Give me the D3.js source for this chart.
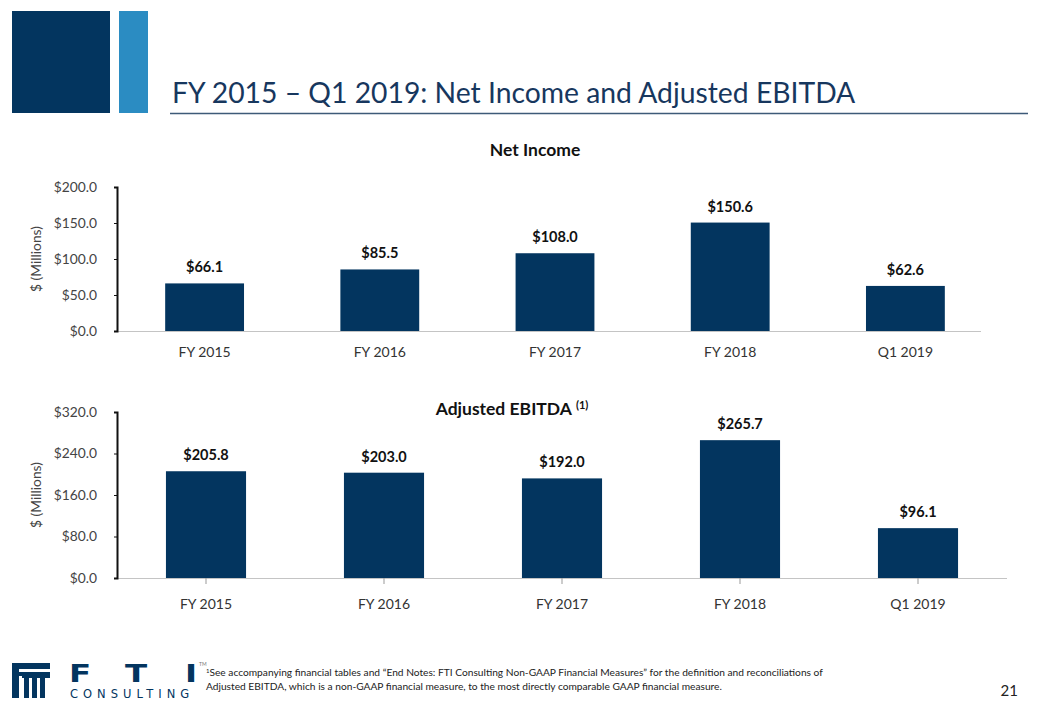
<!DOCTYPE html>
<html>
<head>
<meta charset="utf-8">
<script src="https://cdn.jsdelivr.net/npm/d3@7"></script>
<style>
  body { margin: 0; background: #fff; }
  svg { display: block; font-family: Lato, "Open Sans", sans-serif; }
</style>
</head>
<body>
<svg id="slide" width="1040" height="720"></svg>
<script>
const categories = ["FY 2015", "FY 2016", "FY 2017", "FY 2018", "Q1 2019"];
const netIncome = [66.1, 85.5, 108.0, 150.6, 62.6];
const adjEbitda = [205.8, 203.0, 192.0, 265.7, 96.1];
const netTicks = [0, 50, 100, 150, 200];
const ebitdaTicks = [0, 80, 160, 240, 320];

const navy = "#03355f";
const lightBlue = "#2b8cc2";
const titleColor = "#17375e";

const svg = d3.select("#slide");

// header blocks + title
svg.append("rect").attr("x", 12).attr("y", 11).attr("width", 98).attr("height", 102).attr("fill", navy);
svg.append("rect").attr("x", 119).attr("y", 11).attr("width", 29).attr("height", 102).attr("fill", lightBlue);
svg.append("text")
  .attr("x", 172).attr("y", 103)
  .attr("font-size", 28.3).attr("fill", titleColor)
  .text("FY 2015 \u2013 Q1 2019: Net Income and Adjusted EBITDA");
svg.append("line")
  .attr("x1", 170).attr("x2", 1028).attr("y1", 113.5).attr("y2", 113.5)
  .attr("stroke", "#3d5a78").attr("stroke-width", 1.5);

// one bar chart
function barChart(cfg) {
  const g = svg.append("g");
  const x = d3.scaleBand().domain(categories).range([117, cfg.right]).paddingInner(0.55).paddingOuter(0.275);
  const y = d3.scaleLinear().domain([0, d3.max(cfg.ticks)]).range([cfg.bottom, cfg.top]);

  g.append("line")
    .attr("x1", 117).attr("x2", cfg.baseEnd)
    .attr("y1", y(0) + 0.5).attr("y2", y(0) + 0.5)
    .attr("stroke", "#c4c4c4").attr("stroke-width", 1.2);

  g.selectAll(".bar").data(cfg.values).enter().append("rect")
    .attr("x", (d, i) => x(categories[i]))
    .attr("width", x.bandwidth())
    .attr("y", d => y(d))
    .attr("height", d => y(0) - y(d))
    .attr("fill", navy);

  g.selectAll(".val").data(cfg.values).enter().append("text")
    .attr("x", (d, i) => x(categories[i]) + x.bandwidth() / 2)
    .attr("y", d => y(d) - 11)
    .attr("text-anchor", "middle")
    .attr("font-size", 14.5).attr("font-weight", "bold").attr("fill", "#111")
    .text(d => "$" + d.toFixed(1));

  if (cfg.catTicks) {
    g.selectAll(".ct").data(categories).enter().append("line")
      .attr("x1", d => x(d) + x.bandwidth() / 2).attr("x2", d => x(d) + x.bandwidth() / 2)
      .attr("y1", y(0)).attr("y2", y(0) + 6)
      .attr("stroke", "#999");
  }

  g.selectAll(".cat").data(categories).enter().append("text")
    .attr("x", d => x(d) + x.bandwidth() / 2)
    .attr("y", y(0) + cfg.catOffset)
    .attr("text-anchor", "middle")
    .attr("font-size", 14).attr("fill", "#333")
    .text(d => d);

  const yAxis = g.append("g")
    .attr("transform", "translate(117,0)")
    .call(d3.axisLeft(y).tickValues(cfg.ticks).tickSize(3).tickFormat(d => "$" + d3.format(".1f")(d)));
  yAxis.select(".domain").attr("stroke", "#111").attr("stroke-width", 2);
  yAxis.selectAll(".tick line").attr("stroke", "#111");
  yAxis.selectAll(".tick text").attr("x", -20).attr("font-size", 13.8).attr("fill", "#444")
    .attr("font-family", "Lato, sans-serif");

  g.append("text")
    .attr("transform", `translate(41,${(cfg.top + cfg.bottom) / 2}) rotate(-90)`)
    .attr("text-anchor", "middle")
    .attr("font-size", 13.8).attr("fill", "#444")
    .text("$ (Millions)");

  const t = g.append("text")
    .attr("x", cfg.titleX).attr("y", cfg.titleY)
    .attr("text-anchor", "middle")
    .attr("font-size", 17.5).attr("font-weight", "bold").attr("fill", "#111")
    .text(cfg.title);
  if (cfg.sup) {
    t.append("tspan").attr("dy", -6).attr("dx", 4).attr("font-size", 11).text(cfg.sup);
  }
}

barChart({ values: netIncome, ticks: netTicks, top: 187, bottom: 331, right: 993, baseEnd: 981,
  title: "Net Income", titleX: 535, titleY: 156, catOffset: 26, catTicks: false });
barChart({ values: adjEbitda, ticks: ebitdaTicks, top: 412, bottom: 578, right: 1007, baseEnd: 1007,
  title: "Adjusted EBITDA", sup: "(1)", titleX: 512, titleY: 415, catOffset: 31, catTicks: true });

// footer logo
const logo = svg.append("g");
logo.append("rect").attr("x", 12).attr("y", 663).attr("width", 38).attr("height", 6).attr("fill", navy);
logo.append("rect").attr("x", 12).attr("y", 669).attr("width", 7).attr("height", 29).attr("fill", navy);
logo.append("rect").attr("x", 19).attr("y", 672).attr("width", 31).attr("height", 4).attr("fill", navy);
[24, 32, 40].forEach(cx => {
  logo.append("rect").attr("x", cx).attr("y", 678).attr("width", 5).attr("height", 20).attr("fill", navy);
});
logo.append("rect").attr("x", 22).attr("y", 676).attr("width", 28).attr("height", 2).attr("fill", navy);
logo.selectAll(".ftil").data([["F", 80], ["T", 136], ["I", 191]]).enter().append("text")
  .attr("x", d => d[1]).attr("y", 682)
  .attr("text-anchor", "middle")
  .attr("font-size", 25).attr("font-weight", "900").attr("fill", navy)
  .attr("font-family", "DejaVu Sans, sans-serif")
  .attr("transform", d => `translate(${d[1]},0) scale(1.3,1) translate(${-d[1]},0)`)
  .text(d => d[0]);
logo.append("text").attr("x", 199).attr("y", 666).attr("font-size", 5).attr("fill", "#777").text("TM");
logo.append("text").attr("x", 70).attr("y", 698)
  .attr("font-size", 11.5).attr("fill", navy).attr("letter-spacing", 5)
  .attr("font-family", "DejaVu Sans, sans-serif")
  .text("CONSULTING");

// footnote
const note = svg.append("text").attr("font-size", 10.2).attr("fill", "#222");
note.append("tspan").attr("x", 206).attr("y", 676)
  .html("<tspan font-size='6' dy='-3'>1</tspan><tspan dy='3'>See accompanying financial tables and \u201cEnd Notes: FTI Consulting Non-GAAP Financial Measures\u201d for the definition and reconciliations of</tspan>");
note.append("tspan").attr("x", 206).attr("y", 690)
  .text("Adjusted EBITDA, which is a non-GAAP financial measure, to the most directly comparable GAAP financial measure.");

svg.append("text").attr("x", 1018).attr("y", 696).attr("text-anchor", "end")
  .attr("font-size", 15).attr("fill", "#222").text("21");
</script>
</body>
</html>
